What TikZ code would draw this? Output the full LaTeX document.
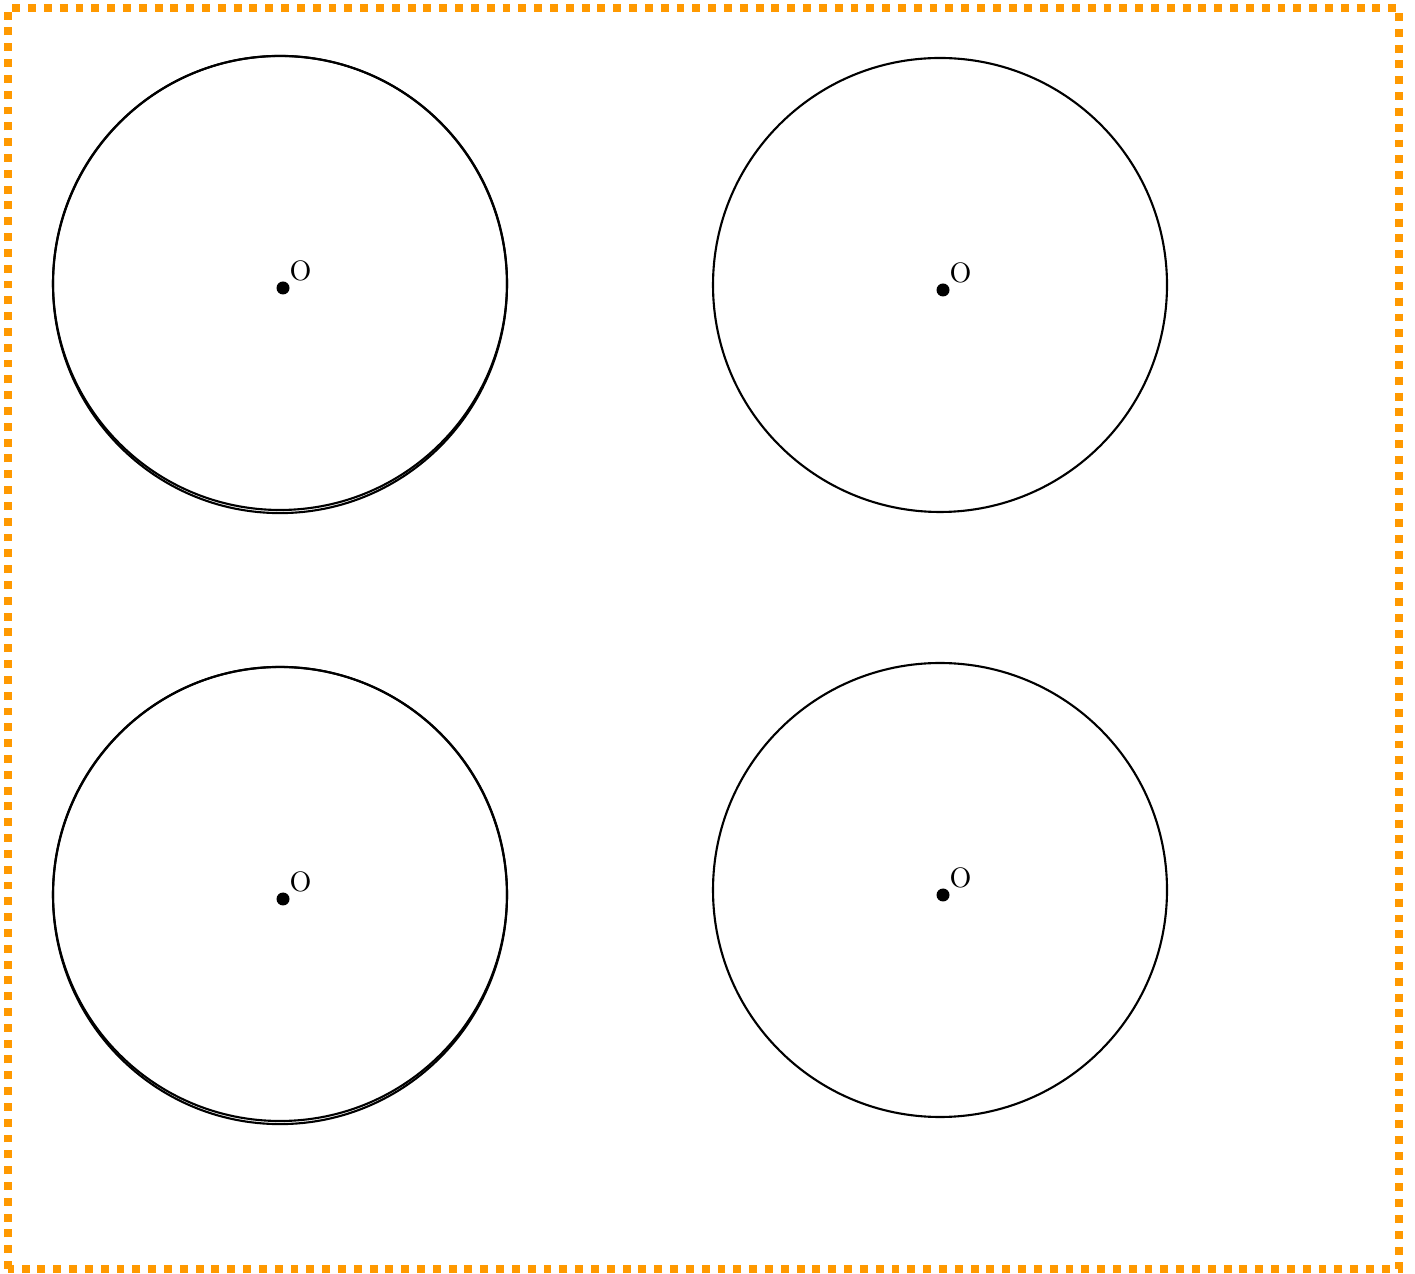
\documentclass[tikz,border=0pt]{standalone}
\usepackage{tikz}
\usetikzlibrary{positioning}
\definecolor{FrameOrange}{RGB}{255,153,0}

\begin{document}
\begin{tikzpicture}[
	rim/.style={draw=black, line width=1.2pt},
	ctr/.style={circle, fill=black, minimum size=2.6mm, inner sep=0pt,
		label={[inner sep=0.4pt, scale=1.6, transform shape]45:O}},
	frame/.style={draw=FrameOrange, line width=4.5pt, dash pattern=on 4.5pt off 4.5pt}]
	\useasboundingbox (0,0) rectangle (28.3,25.46);
	% dotted frame
	\draw[frame] (0.16,0.08) rectangle (27.98,25.30);
	% left column (circle drawn twice)
	\foreach \n/\y/\e in {tl/19.80/19.77, bl/7.58/7.55}{
		\coordinate (c\n) at (5.6,\y);
		\draw[rim] (c\n) circle (4.54);
		\draw[rim] (5.6,\e) ellipse (4.54 and 4.572);
		\node[ctr] (o\n) at ([shift={(0.06,-0.1)}]c\n) {};
	}
	% right column
	\foreach \n/\y in {tr/19.76, br/7.66}{
		\coordinate (c\n) at (18.8,\y);
		\draw[rim] (c\n) circle (4.54);
		\node[ctr] (o\n) at ([shift={(0.06,-0.1)}]c\n) {};
	}
\end{tikzpicture}
\end{document}
